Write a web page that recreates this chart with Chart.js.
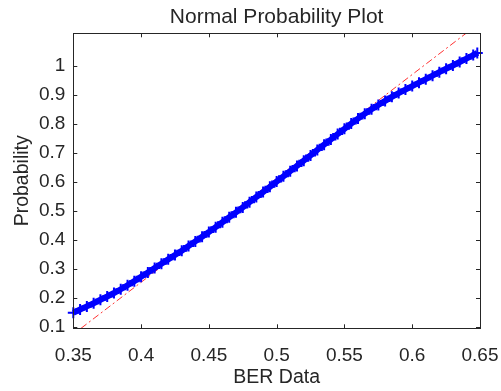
<!DOCTYPE html>
<html>
<head>
<meta charset="utf-8">
<script src="https://cdn.jsdelivr.net/npm/chart.js@4/dist/chart.umd.min.js"></script>
<style>
  html, body { margin: 0; padding: 0; background: #fff; }
  #wrap { width: 501px; height: 391px; position: relative; }
</style>
</head>
<body>
<div id="wrap"><canvas id="chart"></canvas></div>
<script>
// BER data (x) and the matching probability values (y)
const berData = [
  0.350, 0.355, 0.360, 0.365, 0.370, 0.375, 0.380, 0.385, 0.390, 0.395,
  0.400, 0.405, 0.410, 0.415, 0.420, 0.425, 0.430, 0.435, 0.440, 0.445,
  0.450, 0.455, 0.460, 0.465, 0.470, 0.475, 0.480, 0.485, 0.490, 0.495,
  0.500, 0.505, 0.510, 0.515, 0.520, 0.525, 0.530, 0.535, 0.540, 0.545,
  0.550, 0.555, 0.560, 0.565, 0.570, 0.575, 0.580, 0.585, 0.590, 0.595,
  0.600, 0.605, 0.610, 0.615, 0.620, 0.625, 0.630, 0.635, 0.640, 0.645,
  0.648
];
const probability = [
  0.148, 0.159, 0.170, 0.181, 0.193, 0.204, 0.216, 0.229, 0.243, 0.257,
  0.272, 0.287, 0.302, 0.317, 0.332, 0.347, 0.362, 0.378, 0.394, 0.410,
  0.426, 0.443, 0.460, 0.477, 0.494, 0.511, 0.529, 0.547, 0.564, 0.582,
  0.600, 0.618, 0.636, 0.654, 0.672, 0.690, 0.709, 0.727, 0.745, 0.764,
  0.782, 0.800, 0.817, 0.834, 0.849, 0.864, 0.878, 0.892, 0.905, 0.917,
  0.929, 0.941, 0.953, 0.965, 0.977, 0.989, 1.000, 1.012, 1.024, 1.036,
  1.043
];

// reference line ends (where it meets the axes box)
const refLineX = [0.3557, 0.6397];
const refLineY = [0.0945, 1.111];

const xTicks = [0.35, 0.4, 0.45, 0.5, 0.55, 0.6, 0.65];
const xTickLabels = ['0.35', '0.4', '0.45', '0.5', '0.55', '0.6', '0.65'];
const yTicks = [0.1, 0.2, 0.3, 0.4, 0.5, 0.6, 0.7, 0.8, 0.9, 1.0];
const yTickLabels = ['0.1', '0.2', '0.3', '0.4', '0.5', '0.6', '0.7', '0.8', '0.9', '1'];

const axisColor = '#262626';

Chart.defaults.font.family = '"Liberation Sans", Arial, Helvetica, sans-serif';
Chart.defaults.color = axisColor;

// box round the axes with the small inward tick marks (MATLAB style)
const boxTicks = {
  id: 'boxTicks',
  afterDraw(chart) {
    const { ctx, chartArea: a, scales } = chart;
    const len = 4;
    ctx.save();
    ctx.strokeStyle = axisColor;
    ctx.lineWidth = 1;
    ctx.strokeRect(Math.round(a.left) + 0.5, Math.round(a.top) + 0.5,
      Math.round(a.right - a.left), Math.round(a.bottom - a.top));
    ctx.beginPath();
    scales.x.ticks.forEach(t => {
      const px = Math.round(scales.x.getPixelForValue(t.value)) + 0.5;
      ctx.moveTo(px, a.bottom); ctx.lineTo(px, a.bottom - len);
      ctx.moveTo(px, a.top); ctx.lineTo(px, a.top + len);
    });
    scales.y.ticks.forEach(t => {
      const py = Math.round(scales.y.getPixelForValue(t.value)) + 0.5;
      ctx.moveTo(a.left, py); ctx.lineTo(a.left + len, py);
      ctx.moveTo(a.right, py); ctx.lineTo(a.right - len, py);
    });
    ctx.stroke();
    ctx.restore();
  }
};

const ctx = document.getElementById('chart').getContext('2d');
new Chart(ctx, {
  type: 'scatter',
  data: {
    datasets: [
      {
        label: 'BER',
        data: berData.map((x, i) => ({ x: x, y: probability[i] })),
        showLine: true,
        borderColor: '#0000ff',
        backgroundColor: '#0000ff',
        borderWidth: 6,
        pointStyle: 'cross',
        pointRadius: 5.5,
        pointBorderWidth: 2,
        pointHoverRadius: 5.5,
        clip: false,
        order: 1
      },
      {
        label: 'Reference',
        data: refLineX.map((x, i) => ({ x: x, y: refLineY[i] })),
        showLine: true,
        borderColor: '#ff3030',
        borderWidth: 1,
        borderDash: [7, 3, 2, 3],
        pointRadius: 0,
        order: 2
      }
    ]
  },
  options: {
    responsive: true,
    maintainAspectRatio: false,
    animation: false,
    events: [],
    layout: { padding: { left: 0, right: 21, top: 0, bottom: 0 } },
    plugins: {
      legend: { display: false },
      tooltip: { enabled: false },
      title: {
        display: true,
        text: 'Normal Probability Plot',
        fullSize: false,
        color: axisColor,
        font: { size: 21, weight: 'normal', lineHeight: 1.2 },
        padding: { top: 4.4, bottom: 3.7 }
      }
    },
    scales: {
      x: {
        type: 'linear',
        min: 0.35,
        max: 0.65,
        grid: { display: false, drawTicks: false },
        border: { display: false },
        afterBuildTicks: scale => { scale.ticks = xTicks.map(v => ({ value: v })); },
        afterFit: scale => {
          scale.height = 62.7;
          scale.paddingLeft = 0;
          scale.paddingRight = 0;
        },
        ticks: {
          padding: 16,
          maxRotation: 0,
          autoSkip: false,
          font: { size: 19 },
          color: axisColor,
          callback: (v, i) => xTickLabels[i]
        },
        title: {
          display: true,
          text: 'BER Data',
          color: axisColor,
          font: { size: 19.5, lineHeight: 1.2 },
          padding: { top: 0, bottom: 1.5 }
        }
      },
      y: {
        type: 'linear',
        min: 0.0945,
        max: 1.111,
        grid: { display: false, drawTicks: false },
        border: { display: false },
        afterBuildTicks: scale => { scale.ticks = yTicks.map(v => ({ value: v })); },
        afterFit: scale => {
          scale.width = 73.3;
          scale.paddingTop = 0;
          scale.paddingBottom = 0;
        },
        ticks: {
          padding: 8,
          autoSkip: false,
          font: { size: 19 },
          color: axisColor,
          callback: (v, i) => yTickLabels[i]
        },
        title: {
          display: true,
          text: 'Probability',
          color: axisColor,
          font: { size: 19.5, lineHeight: 1.2 },
          padding: { top: 11, bottom: 0 }
        }
      }
    }
  },
  plugins: [boxTicks]
});
</script>
</body>
</html>
